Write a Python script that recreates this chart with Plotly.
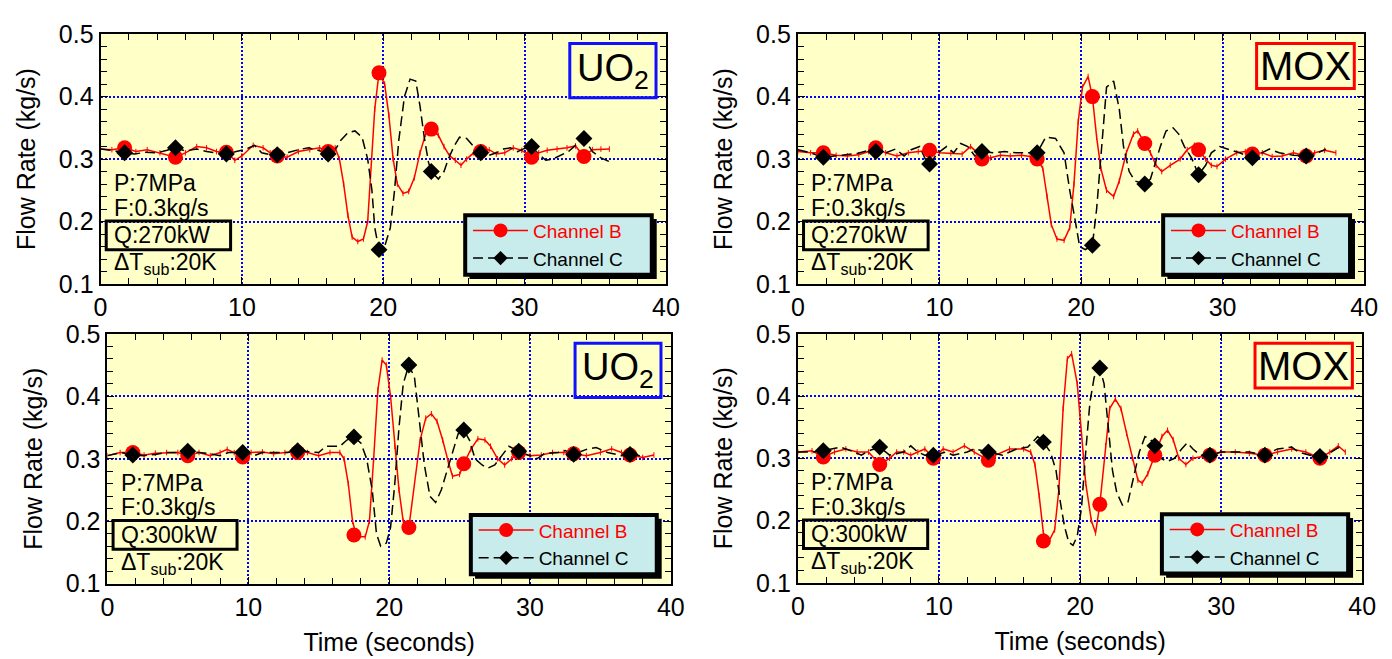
import plotly.graph_objects as go

# ---------------- data ----------------
# Panel 1: UO2, Q=270 kW
p1_tb = [0,0.8,1.7,2.5,3.3,4.2,5.0,5.3,6.0,6.8,7.5,8.2,8.9,9.5,10.0,10.8,11.5,12.0,12.5,13.2,14.0,14.8,15.5,16.1,16.6,16.9,17.2,17.5,17.8,18.2,18.6,18.9,19.1,19.4,19.7,20.1,20.4,20.7,21.0,21.4,21.8,22.2,22.6,23.0,23.4,23.9,24.3,24.7,25.1,25.5,25.9,26.4,26.9,27.5,28.0,28.6,29.2,29.8,30.5,31.0,31.6,32.3,33.0,33.6,34.2,34.8,35.4,36.0]
p1_b = [.316,.315,.318,.312,.315,.31,.305,.303,.31,.32,.318,.312,.311,.298,.305,.322,.318,.31,.305,.303,.312,.315,.318,.312,.318,.30,.26,.21,.175,.168,.172,.20,.27,.38,.438,.42,.37,.30,.26,.245,.248,.27,.31,.34,.348,.338,.32,.305,.298,.29,.30,.31,.312,.315,.308,.31,.318,.314,.303,.31,.314,.316,.318,.321,.304,.315,.316,.316]
p1_tc = [0,0.8,1.7,2.4,3.2,4.0,4.7,5.3,6.0,6.8,7.5,8.2,8.9,9.6,10.3,10.9,11.4,12.0,12.5,13.2,14.0,14.7,15.4,16.1,16.6,17.0,17.5,18.0,18.5,18.9,19.2,19.4,19.7,20.1,20.5,20.8,21.1,21.5,21.9,22.3,22.6,22.9,23.2,23.4,23.9,24.3,24.6,25.0,25.4,25.9,26.4,26.9,27.5,28.0,28.5,29.0,29.5,30.0,30.5,31.0,31.5,32.0,32.6,33.1,33.6,34.2,34.8,35.4,36.0]
p1_c = [.316,.314,.31,.308,.311,.31,.314,.318,.313,.316,.312,.31,.308,.312,.316,.322,.31,.307,.307,.31,.315,.318,.314,.308,.315,.33,.342,.345,.335,.30,.25,.19,.155,.16,.19,.25,.33,.40,.428,.425,.385,.335,.295,.28,.268,.28,.30,.32,.335,.333,.32,.31,.306,.31,.316,.318,.312,.317,.32,.308,.298,.30,.306,.312,.322,.333,.312,.302,.296]
p1_mt = [1.7,5.3,8.9,12.5,16.1,19.7,23.4,26.9,30.5,34.2]
p1_mb = [.318,.303,.311,.305,.312,.438,.348,.312,.303,.304]
p1_mc = [.31,.318,.308,.307,.308,.155,.28,.31,.32,.333]

# Panel 2: MOX, Q=270 kW
p2_tb = [0,0.9,1.8,2.7,3.5,4.3,5.0,5.5,6.2,7.0,7.8,8.5,9.3,10.0,10.8,11.6,12.2,12.7,13.0,13.6,14.3,15.0,15.8,16.4,16.9,17.3,17.6,17.9,18.3,18.8,19.2,19.5,19.8,20.1,20.5,20.8,21.1,21.4,21.8,22.3,22.7,23.2,23.7,24.0,24.5,24.9,25.3,25.7,26.3,27.0,27.5,28.0,28.3,28.8,29.2,29.6,30.2,31.0,31.6,32.1,32.8,33.5,34.2,35.0,35.9,36.5,37.2,38.0]
p2_b = [.312,.31,.31,.306,.305,.307,.312,.318,.31,.305,.31,.312,.314,.31,.309,.308,.32,.31,.30,.302,.306,.305,.306,.304,.30,.285,.24,.195,.172,.17,.19,.26,.36,.415,.432,.40,.335,.285,.25,.24,.265,.31,.34,.345,.325,.31,.29,.28,.29,.30,.315,.322,.315,.30,.29,.288,.30,.31,.312,.308,.31,.304,.305,.31,.305,.31,.314,.31]
p2_tc = [0,0.9,1.8,2.6,3.4,4.2,5.0,5.5,6.2,6.9,7.5,8.0,8.6,9.0,9.3,9.9,10.5,11.0,11.5,12.0,12.5,13.0,13.8,14.6,15.4,16.2,16.9,17.5,18.2,18.8,19.2,19.6,19.9,20.3,20.8,21.1,21.5,21.8,22.3,22.7,23.0,23.4,23.8,24.5,24.9,25.2,25.6,26.0,26.5,26.9,27.3,27.8,28.3,28.8,29.2,29.8,30.5,31.2,32.1,32.8,33.3,34.0,35.0,35.9,36.7,37.3]
p2_c = [.315,.31,.303,.305,.306,.309,.314,.312,.31,.316,.305,.315,.32,.30,.292,.31,.32,.31,.325,.32,.305,.312,.31,.312,.31,.31,.31,.335,.333,.31,.25,.20,.16,.155,.162,.22,.34,.415,.425,.38,.32,.28,.265,.26,.268,.29,.32,.345,.35,.34,.32,.302,.275,.29,.31,.32,.315,.31,.302,.31,.316,.31,.306,.305,.31,.316]
p2_mt = [1.8,5.5,9.3,13.0,16.9,20.8,24.5,28.3,32.1,35.9]
p2_mb = [.31,.318,.314,.30,.30,.40,.325,.315,.308,.305]
p2_mc = [.303,.312,.292,.312,.31,.162,.26,.275,.302,.305]

# Panel 3: UO2, Q=300 kW
p3_tb = [0,0.9,1.8,2.6,3.4,4.2,5.0,5.7,6.5,7.3,8.0,8.5,9.0,9.6,10.2,11.0,11.8,12.6,13.5,14.2,15.0,15.8,16.5,16.8,17.1,17.4,17.7,18.3,18.6,18.9,19.2,19.5,19.8,20.1,20.4,20.7,21.0,21.4,21.8,22.2,22.6,23.0,23.4,23.8,24.2,24.5,25.0,25.3,25.8,26.3,26.8,27.2,27.7,28.2,28.7,29.2,30.0,30.8,31.6,32.4,33.1,34.0,35.0,35.8,36.5,37.1,38.0,38.8]
p3_b = [.305,.31,.31,.306,.309,.31,.31,.305,.31,.305,.31,.315,.31,.303,.31,.311,.308,.31,.312,.31,.305,.31,.31,.30,.26,.20,.175,.175,.20,.30,.41,.458,.45,.40,.32,.25,.20,.19,.26,.33,.365,.372,.36,.33,.295,.272,.275,.292,.315,.332,.33,.32,.30,.29,.30,.31,.305,.306,.31,.31,.308,.305,.31,.316,.31,.306,.302,.306]
p3_tc = [0,1,1.8,2.6,3.4,4.2,5.0,5.7,6.5,7.3,8.0,8.6,9.6,10.4,11.0,12.0,12.8,13.5,14.2,15.0,15.5,16.0,16.5,17.0,17.5,18.0,18.4,18.8,19.1,19.4,19.8,20.1,20.4,20.7,21.0,21.4,21.8,22.1,22.5,22.9,23.3,23.7,24.1,24.5,24.9,25.3,25.7,26.1,26.6,27.0,27.5,28.0,28.5,29.2,30.0,30.5,31.0,32.0,32.5,33.1,34.0,34.7,35.5,36.5,37.1,37.8]
p3_c = [.305,.31,.306,.305,.307,.31,.31,.312,.31,.308,.305,.31,.31,.305,.31,.31,.31,.313,.312,.31,.32,.32,.32,.33,.335,.325,.30,.25,.18,.16,.165,.19,.26,.35,.42,.45,.43,.37,.29,.24,.23,.25,.28,.31,.34,.346,.33,.30,.29,.285,.29,.305,.32,.312,.305,.30,.308,.31,.313,.307,.315,.318,.31,.305,.307,.305]
p3_mt = [1.8,5.7,9.6,13.5,17.5,21.4,25.3,29.2,33.1,37.1]
p3_mb = [.31,.305,.303,.31,.178,.19,.292,.31,.308,.306]
p3_mc = [.306,.312,.31,.313,.335,.45,.346,.312,.307,.307]

# Panel 4: MOX, Q=300 kW
p4_tb = [0,1,1.8,2.6,3.4,4.2,5.0,5.8,6.5,7.0,7.5,8.0,8.5,9.0,9.6,10.3,11.0,11.8,12.5,13.5,14.0,15.0,16.0,16.5,16.8,17.1,17.4,17.8,18.2,18.5,18.8,19.1,19.4,19.8,20.1,20.4,20.8,21.1,21.4,21.8,22.1,22.5,22.9,23.3,23.7,24.1,24.4,24.8,25.3,25.8,26.2,26.6,27.0,27.5,28.0,29.2,30.0,31.0,32.0,33.1,34.0,35.0,36.0,37.0,37.7,38.3,38.8]
p4_b = [.31,.312,.302,.31,.315,.31,.31,.29,.30,.31,.31,.305,.31,.315,.30,.315,.31,.32,.31,.297,.305,.315,.315,.31,.29,.24,.18,.167,.185,.25,.38,.46,.468,.42,.34,.26,.20,.18,.226,.32,.38,.395,.38,.34,.30,.265,.26,.275,.305,.335,.345,.33,.30,.29,.30,.305,.31,.31,.308,.305,.31,.315,.31,.30,.31,.32,.31]
p4_tc = [0,1,1.8,2.5,3.0,4.0,4.5,5.0,5.8,6.5,7.5,8.0,8.5,9.0,9.6,10.5,11.0,12.0,12.5,13.5,14.5,15.5,16.3,17.0,17.4,17.9,18.3,18.6,18.9,19.2,19.5,19.8,20.1,20.4,20.7,21.0,21.4,21.7,22.0,22.3,22.6,23.0,23.4,23.8,24.2,24.6,25.0,25.3,25.7,26.2,26.7,27.2,27.6,28.0,28.5,29.2,30.0,31.0,32.0,33.1,34.0,35.0,35.5,36.3,37.0,37.8,38.5]
p4_c = [.31,.31,.312,.315,.318,.31,.305,.312,.318,.305,.31,.32,.31,.305,.305,.31,.305,.31,.315,.31,.305,.315,.318,.335,.326,.31,.28,.23,.19,.165,.16,.175,.22,.31,.39,.43,.445,.42,.35,.28,.245,.225,.23,.27,.31,.335,.33,.32,.30,.295,.30,.315,.325,.315,.305,.305,.31,.31,.31,.305,.315,.318,.31,.305,.303,.31,.32]
p4_mt = [1.8,5.8,9.6,13.5,17.4,21.4,25.3,29.2,33.1,37.0]
p4_mb = [.302,.29,.30,.297,.167,.226,.305,.305,.305,.30]
p4_mc = [.312,.318,.305,.31,.326,.445,.32,.305,.305,.303]

fuel_labels = ["UO<sub>2</sub>", "MOX", "UO<sub>2</sub>", "MOX"]
power_labels = ["Q:270kW", "Q:270kW", "Q:300kW", "Q:300kW"]
series_names = ["Channel B", "Channel C"]
x_ticks = [0, 10, 20, 30, 40]
y_ticks = [0.1, 0.2, 0.3, 0.4, 0.5]

panels = [
    (p1_tb, p1_b, p1_tc, p1_c, p1_mt, p1_mb, p1_mc),
    (p2_tb, p2_b, p2_tc, p2_c, p2_mt, p2_mb, p2_mc),
    (p3_tb, p3_b, p3_tc, p3_c, p3_mt, p3_mb, p3_mc),
    (p4_tb, p4_b, p4_tc, p4_c, p4_mt, p4_mb, p4_mc),
]

# ---------------- layout geometry ----------------
W, H = 1392, 659
def px(x0, x1):
    return [x0 / W, x1 / W]
def py(top, bottom):
    return [1 - bottom / H, 1 - top / H]

xdoms = [px(95, 669), px(803, 1378), px(102, 674), px(803, 1376)]
ydoms = [py(21, 282), py(21, 282), py(334, 595), py(334, 594)]

RED = "#FF0000"
FONT = "Liberation Sans, Arial, sans-serif"
fig = go.Figure()

for i, (tb, b, tc, c, mt, mb, mc) in enumerate(panels):
    k = "" if i == 0 else str(i + 1)
    xa, ya = "x" + k, "y" + k
    lg = "legend" + k
    fig.add_trace(go.Scatter(x=tb, y=b, xaxis=xa, yaxis=ya, mode="lines+markers",
                             line=dict(color=RED, width=1.5),
                             marker=dict(symbol="line-ns", size=4, line=dict(color=RED, width=1)),
                             showlegend=False, hoverinfo="skip"))
    fig.add_trace(go.Scatter(x=tc, y=c, xaxis=xa, yaxis=ya, mode="lines",
                             line=dict(color="black", width=1.5, dash="10px,5px"),
                             showlegend=False, hoverinfo="skip"))
    fig.add_trace(go.Scatter(x=mt, y=mb, xaxis=xa, yaxis=ya, mode="markers",
                             marker=dict(symbol="circle", size=15, color=RED),
                             showlegend=False, hoverinfo="skip"))
    fig.add_trace(go.Scatter(x=mt, y=mc, xaxis=xa, yaxis=ya, mode="markers",
                             marker=dict(symbol="diamond", size=13, color="black"),
                             showlegend=False, hoverinfo="skip"))
    # legend entries
    fig.add_trace(go.Scatter(x=[None], y=[None], xaxis=xa, yaxis=ya, mode="lines+markers",
                             name='<span style="color:#FF0000">%s</span>' % series_names[0],
                             line=dict(color=RED, width=1.5),
                             marker=dict(symbol="circle", size=14, color=RED),
                             legend=lg))
    fig.add_trace(go.Scatter(x=[None], y=[None], xaxis=xa, yaxis=ya, mode="lines+markers",
                             name=series_names[1],
                             line=dict(color="black", width=1.5, dash="10px,5px"),
                             marker=dict(symbol="diamond", size=11, color="black"),
                             legend=lg))

    axis_common = dict(showline=True, linecolor="black", linewidth=2, mirror="allticks",
                       ticks="inside", ticklen=7, tickcolor="black", tickwidth=1,
                       showgrid=True, gridcolor="#0000FF", gridwidth=1.6, griddash="2px,2px",
                       zeroline=False, tickfont=dict(family=FONT, size=25, color="black"))
    fig.layout["xaxis" + k] = dict(axis_common, domain=xdoms[i], anchor=ya, range=[0, 40],
                                   tickvals=x_ticks, minor=dict(dtick=2, ticks="inside", ticklen=6,
                                                                tickcolor="black", showgrid=False),
                                   title=dict(text="Time (seconds)" if i >= 2 else "",
                                              font=dict(family=FONT, size=25, color="black"),
                                              standoff=14))
    fig.layout["yaxis" + k] = dict(axis_common, domain=ydoms[i], anchor=xa, range=[0.1, 0.5],
                                   tickvals=y_ticks, ticktext=["%.1f" % v for v in y_ticks],
                                   minor=dict(dtick=0.02, ticks="inside", ticklen=6,
                                              tickcolor="black", showgrid=False),
                                   title=dict(text="Flow Rate (kg/s)",
                                              font=dict(family=FONT, size=25, color="black"),
                                              standoff=16))

    # legend box (shadow + box) as shapes in data coordinates
    fig.add_shape(type="rect", xref=xa, yref=ya, x0=26.1, x1=39.35, y0=0.108, y1=0.204,
                  fillcolor="black", line=dict(width=0), layer="above")
    fig.add_shape(type="rect", xref=xa, yref=ya, x0=25.8, x1=39.0, y0=0.115, y1=0.21,
                  fillcolor="#C8ECEC", line=dict(color="black", width=4), layer="above")
    x0d, x1d = xdoms[i]
    y0d, y1d = ydoms[i]
    fig.layout[lg] = dict(x=x0d + (26.0 / 40) * (x1d - x0d), y=y0d + ((0.216 - 0.1) / 0.4) * (y1d - y0d),
                          xanchor="left", yanchor="top", bgcolor="rgba(0,0,0,0)", borderwidth=0,
                          itemwidth=55, tracegroupgap=0,
                          font=dict(family=FONT, size=19, color="black"))

    # condition texts
    for txt, yv in [("P:7MPa", 0.262), ("F:0.3kg/s", 0.222), (power_labels[i], 0.178),
                    ("ΔT<sub>sub</sub>:20K", 0.133)]:
        fig.add_annotation(x=0.8, y=yv, xref=xa, yref=ya, text=txt, showarrow=False,
                           xanchor="left", yanchor="middle",
                           font=dict(family=FONT, size=23, color="black"))
    fig.add_shape(type="rect", xref=xa, yref=ya, x0=0.4, x1=9.2, y0=0.155, y1=0.201,
                  line=dict(color="black", width=3), layer="above")

    # fuel label box
    is_uo2 = (i % 2 == 0)
    bx0 = 33.2 if is_uo2 else 32.4
    by0 = 0.398 if is_uo2 else 0.413
    fig.add_shape(type="rect", xref=xa, yref=ya, x0=bx0, x1=39.3, y0=by0, y1=0.485,
                  line=dict(color="#1010FF" if is_uo2 else RED, width=3), layer="above")
    fig.add_annotation(x=(bx0 + 39.3) / 2, y=(by0 + 0.485) / 2, xref=xa, yref=ya,
                       text=fuel_labels[i], showarrow=False, xanchor="center", yanchor="middle",
                       font=dict(family=FONT, size=38 if is_uo2 else 40, color="black"))

fig.update_layout(width=W, height=H, margin=dict(l=0, r=0, t=0, b=0),
                  paper_bgcolor="white", plot_bgcolor="#FFFFC8", showlegend=True)

fig.write_html("out.html")
